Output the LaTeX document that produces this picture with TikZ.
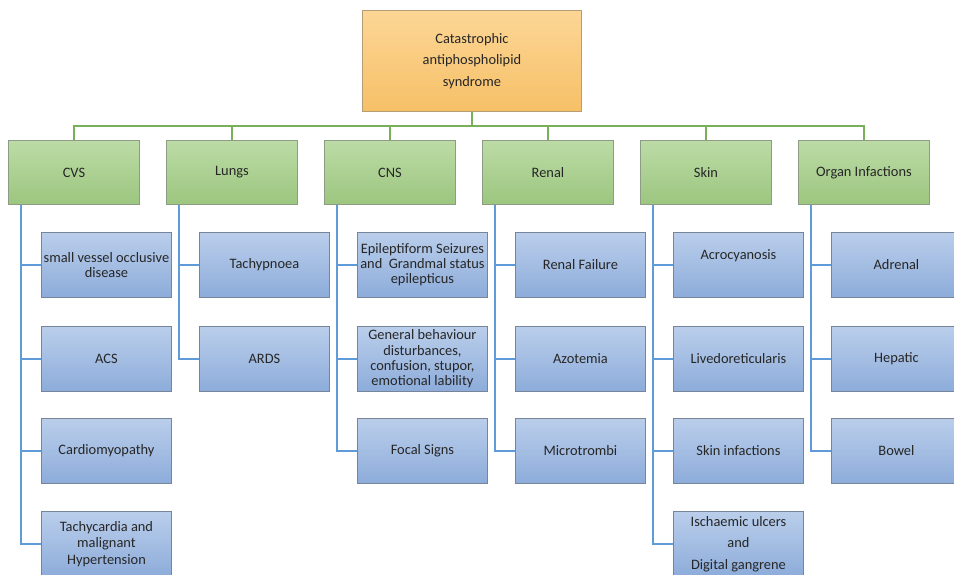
\documentclass[tikz,border=0pt]{standalone}
\usepackage{fontspec}
\setmainfont{Carlito}
\begin{document}
\begin{tikzpicture}[x=1pt,y=-1pt,
  txt/.style={text=black!85, align=center, font=\fontsize{14.4}{15.2}\selectfont, inner sep=0pt},
  rootbox/.style={txt, rectangle, anchor=north west, minimum width=219pt, minimum height=101pt,
    top color=rootTop, bottom color=rootBot, draw=rootEdge, line width=0.9pt,
    font=\fontsize{14.4}{21.7}\selectfont},
  catbox/.style={txt, rectangle, anchor=north west, minimum width=131pt, minimum height=64pt,
    top color=catTop, bottom color=catBot, draw=catEdge, line width=0.9pt},
  leafbox/.style={txt, rectangle, anchor=north west, minimum width=130pt, minimum height=65pt,
    top color=leafTop, bottom color=leafBot, draw=leafEdge, line width=0.9pt},
  gline/.style={draw=greenLine, line width=1.8pt},
  bline/.style={draw=blueLine, line width=1.8pt}]
\definecolor{rootTop}{HTML}{FCD696}
\definecolor{rootBot}{HTML}{F6C067}
\definecolor{rootEdge}{HTML}{B69E74}
\definecolor{catTop}{HTML}{BCDBA6}
\definecolor{catBot}{HTML}{9CC67F}
\definecolor{catEdge}{HTML}{8D9C85}
\definecolor{leafTop}{HTML}{BACEEB}
\definecolor{leafBot}{HTML}{8DACDA}
\definecolor{leafEdge}{HTML}{76859A}
\definecolor{greenLine}{HTML}{79B15A}
\definecolor{blueLine}{HTML}{5F9BD8}

\useasboundingbox (0,0) rectangle (954,574);
\clip (0,0) rectangle (954,574);
\fill[white] (0,0) rectangle (954,574);

% root
\node[rootbox] (root) at (362,10) {Catastrophic\\antiphospholipid\\syndrome};
\coordinate (bus) at (0,126);

% categories
\node[catbox] (cvs)   at (8,140)   {CVS};
\node[catbox] (lungs) at (166,140) {Lungs};
\node[catbox] (cns)   at (324,140) {CNS};
\node[catbox] (renal) at (482,140) {Renal};
\node[catbox] (skin)  at (640,140) {Skin};
\node[catbox] (organ) at (798,140) {Organ Infactions};

\foreach \c in {cvs,lungs,cns,renal,skin,organ}
  \draw[gline] (root.south) -- (root.south |- bus) -| (\c.north);

% CVS
\node[leafbox] (cvs1) at (41,232) {small vessel occlusive\\disease};
\node[leafbox] (cvs2) at (41,326) {ACS};
\node[leafbox] (cvs3) at (41,418) {Cardiomyopathy};
\node[leafbox, font=\fontsize{14.4}{16.3}\selectfont] (cvs4) at (41,511) {Tachycardia and\\malignant\\Hypertension};

% Lungs
\node[leafbox] (lun1) at (199,232) {Tachypnoea};
\node[leafbox] (lun2) at (199,326) {ARDS};

% CNS
\node[leafbox] (cns1) at (357,232) {Epileptiform Seizures\\and~ Grandmal status\\epilepticus};
\node[leafbox] (cns2) at (357,326) {General behaviour\\disturbances,\\confusion, stupor,\\emotional lability};
\node[leafbox] (cns3) at (357,418) {Focal Signs};

% Renal
\node[leafbox] (ren1) at (515,232) {Renal Failure};
\node[leafbox] (ren2) at (515,326) {Azotemia};
\node[leafbox] (ren3) at (515,418) {Microtrombi};

% Skin
\node[leafbox, font=\fontsize{14.4}{20}\selectfont] (ski1) at (673,232) {Acrocyanosis\\\mbox{}};
\node[leafbox] (ski2) at (673,326) {Livedoreticularis};
\node[leafbox] (ski3) at (673,418) {Skin infactions};
\node[leafbox, font=\fontsize{14.4}{21.7}\selectfont] (ski4) at (673,511) {Ischaemic ulcers\\and\\Digital gangrene};

% Organ infarctions
\node[leafbox] (org1) at (831,232) {Adrenal};
\node[leafbox] (org2) at (831,326) {Hepatic};
\node[leafbox] (org3) at (831,418) {Bowel};

% branch connectors
\foreach \p/\k in {cvs/cvs1,cvs/cvs2,cvs/cvs3,cvs/cvs4,
                   lungs/lun1,lungs/lun2,
                   cns/cns1,cns/cns2,cns/cns3,
                   renal/ren1,renal/ren2,renal/ren3,
                   skin/ski1,skin/ski2,skin/ski3,skin/ski4,
                   organ/org1,organ/org2,organ/org3}
  \draw[bline] ([xshift=13pt]\p.south west) |- (\k.west);
\end{tikzpicture}
\end{document}
